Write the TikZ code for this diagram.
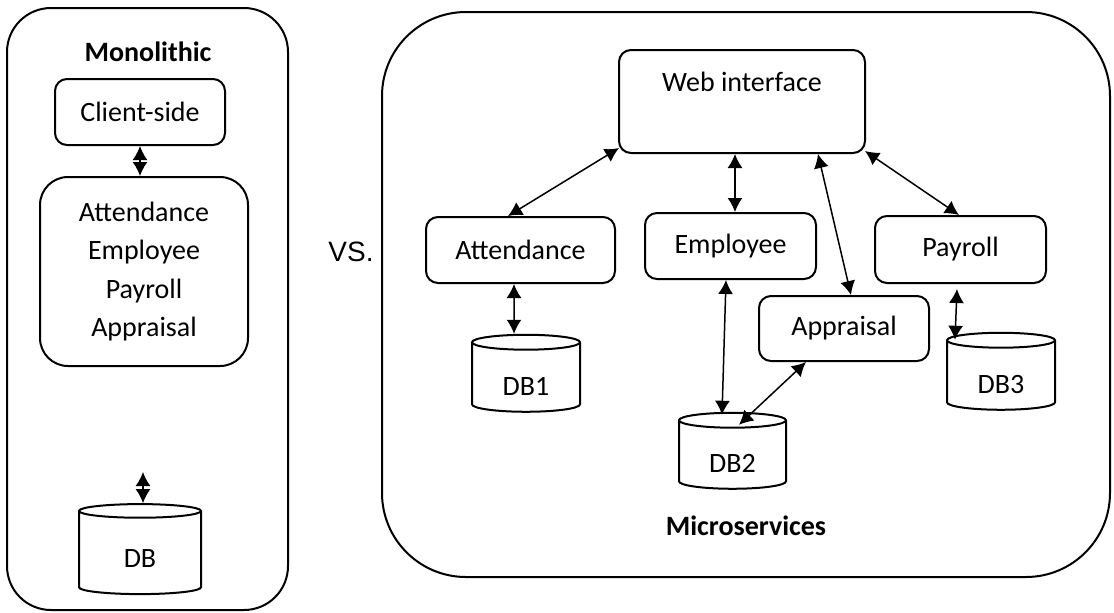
\documentclass[tikz,border=0pt]{standalone}
\usepackage{fontspec}
\setmainfont{Carlito}
\newfontfamily\arialfont{Liberation Sans}
\usetikzlibrary{arrows.meta,shapes.geometric,calc}
\begin{document}
\begin{tikzpicture}[x=0.5pt,y=-0.5pt,
  every node/.style={font=\fontsize{14}{19.3}\selectfont},
  svc/.style={draw,line width=1pt,rounded corners=6pt,align=center,inner sep=0pt},
  store/.style={draw,line width=1pt,cylinder,shape border rotate=90,aspect=0.32,inner sep=0pt},
  link/.style={{Latex[length=7pt,width=7.5pt]}-{Latex[length=7pt,width=7.5pt]},line width=0.75pt}]
\useasboundingbox (0,0) rectangle (1114,612);
% Monolithic
\draw[line width=1pt,rounded corners=22pt] (7,8) rectangle (288,610);
\node[font=\fontsize{14}{17}\selectfont\bfseries] (monotitle) at (148,52) {Monolithic};
\node[svc,minimum width=85pt,minimum height=33pt] (client) at (140,112) {Client-side};
\node[svc,rounded corners=14pt,minimum width=104pt,minimum height=94.5pt] (modules) at (144,271.5) {Attendance\\Employee\\Payroll\\Appraisal};
\node[store,aspect=0.42,minimum width=61pt,minimum height=45pt] (db) at (140,553) {\raisebox{-7pt}[0pt][0pt]{DB}};
\coordinate (dbin) at (143,472);
\draw[link] (client.south) -- (client.south |- modules.north);
\draw[link] (dbin) -- (dbin |- db.north);
% vs
\node[font=\arialfont\fontsize{14}{17}\selectfont] (vs) at (351,252) {VS.};
% Microservices
\draw[line width=1pt,rounded corners=42pt] (382,12) rectangle (1110,577);
\node[svc,minimum width=123pt,minimum height=51.5pt,
  label={[anchor=center,yshift=-16.5pt]north:Web interface}] (web) at (742,101.5) {};
\node[svc,minimum width=94.5pt,minimum height=33pt] (att) at (520.5,250) {Attendance};
\node[svc,minimum width=85.5pt,minimum height=33pt] (emp) at (730.5,246) {Employee};
\node[svc,minimum width=85.5pt,minimum height=33.5pt] (pay) at (960.5,249.5) {Payroll};
\node[svc,minimum width=85pt,minimum height=32.5pt] (appr) at (844,328.5) {Appraisal};
\node[store,minimum width=54pt,minimum height=38.5pt] (db1) at (526,377.5) {\raisebox{-9pt}[0pt][0pt]{DB1}};
\node[store,minimum width=53.5pt,minimum height=38pt] (db2) at (732.5,455) {\raisebox{-8.5pt}[0pt][0pt]{DB2}};
\node[store,minimum width=54pt,minimum height=38.5pt] (db3) at (1001,375.5) {\raisebox{-9pt}[0pt][0pt]{DB3}};
\node[font=\fontsize{14}{17}\selectfont\bfseries] (microtitle) at (746,526) {Microservices};
% links
\draw[link] ($(web.south west)+(1,-6)$) -- ($(att.north west)+(83,0)$);
\draw[link] ($(web.south)+(-7,0)$) -- ($(emp.north)+(4.5,0)$);
\draw[link] ($(web.south east)+(-48,0)$) -- ($(appr.north)+(7,0)$);
\draw[link] ($(web.south east)+(-1,-3)$) -- ($(pay.north)+(-1.5,0)$);
\draw[link] ($(att.south)+(-6.5,0)$) -- ($(db1.north)+(-12,0)$);
\draw[link] ($(emp.south)+(-4.5,0)$) -- ($(db2.north)+(-10.5,3)$);
\draw[link] ($(appr.south west)+(48,0)$) -- ($(db2.north)+(6.5,13)$);
\draw[link] ($(pay.south)+(-3.5,5)$) -- ($(db3.north)+(-46,8)$);
\end{tikzpicture}
\end{document}
